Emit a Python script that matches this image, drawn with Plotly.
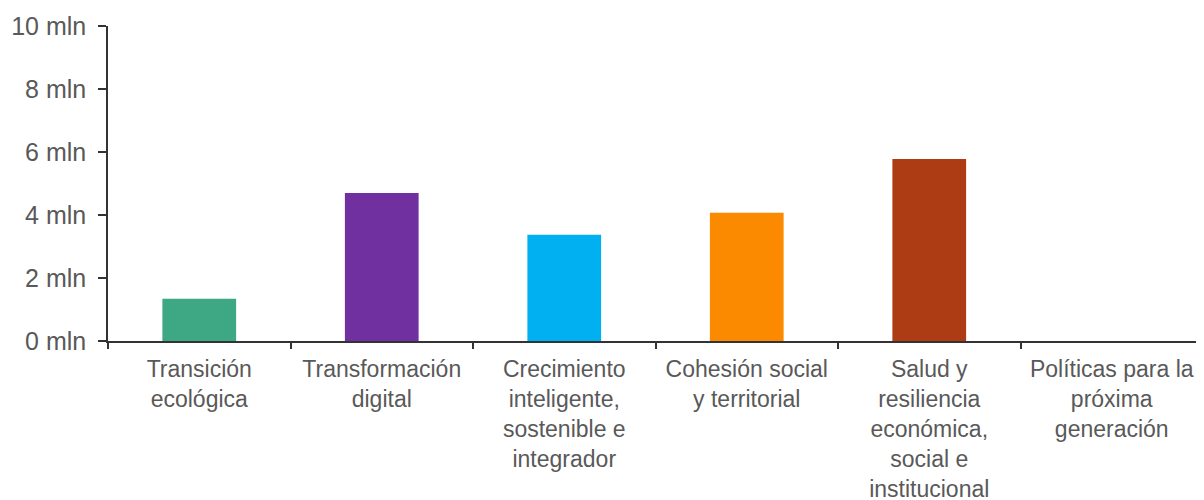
import plotly.graph_objects as go

categories = [
    "Transición<br>ecológica",
    "Transformación<br>digital",
    "Crecimiento<br>inteligente,<br>sostenible e<br>integrador",
    "Cohesión social<br>y territorial",
    "Salud y<br>resiliencia<br>económica,<br>social e<br>institucional",
    "Políticas para la<br>próxima<br>generación",
]
values = [1.34, 4.70, 3.37, 4.07, 5.78, 0.0]
bar_colors = ["#3EA784", "#7030A0", "#00B0F0", "#FB8A00", "#AD3B14", "#888888"]
y_tickvals = [0, 2, 4, 6, 8, 10]
y_ticktext = ["0 mln", "2 mln", "4 mln", "6 mln", "8 mln", "10 mln"]

fig = go.Figure(
    go.Bar(x=categories, y=values, marker=dict(color=bar_colors, line=dict(width=0)),
           hoverinfo="x+y")
)

font_color = "#595959"
fig.update_layout(
    width=1196, height=492,
    margin=dict(l=100, r=1, t=18, b=159, autoexpand=False),
    paper_bgcolor="white", plot_bgcolor="white",
    bargap=0.596,
    showlegend=False,
    font=dict(family="Liberation Sans, Arial, sans-serif", size=23, color=font_color),
)
fig.update_xaxes(
    type="category", automargin=False,
    showline=True, linecolor="#333333", linewidth=1.5,
    ticks="outside", tickson="boundaries", ticklen=6, tickcolor="#333333", tickwidth=1.5,
    showgrid=False, zeroline=False,
    tickfont=dict(size=23, color=font_color),
    tickangle=0,
    ticklabelstandoff=7,
)
fig.update_yaxes(
    range=[0, 10], automargin=False,
    tickvals=y_tickvals, ticktext=y_ticktext,
    showline=True, linecolor="#333333", linewidth=1.5,
    ticks="outside", ticklen=8, tickcolor="#333333", tickwidth=1.5,
    showgrid=False, zeroline=False,
    tickfont=dict(size=25, color=font_color),
    ticklabelstandoff=7,
)

fig.write_html("out.html")
